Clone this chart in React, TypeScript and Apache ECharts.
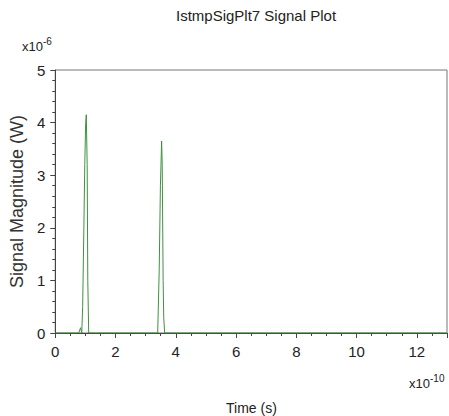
import React, { useEffect, useRef } from "react";
import * as echarts from "echarts";

// Time in units of 1e-10 s, magnitude in units of 1e-6 W
const timeValues = [0, 0.78, 0.84, 0.88, 0.91, 0.95, 0.98, 1.01, 1.03, 1.06, 1.08, 1.11, 3.4, 3.45, 3.49, 3.53, 3.55, 3.58, 3.6, 3.63, 13];
const signalValues = [0, 0, 0.1, 0, 0.5, 2.0, 3.2, 4.0, 4.15, 3.2, 1.0, 0, 0, 1.2, 2.8, 3.65, 3.2, 1.0, 0.3, 0, 0];
const xTickMax = 13;
const yTickMax = 5;
const title = "IstmpSigPlt7 Signal Plot";

const FONT = "Arial, 'Liberation Sans', sans-serif";

export default function App() {
  const ref = useRef<HTMLDivElement>(null);
  useEffect(() => {
    if (!ref.current) return;
    const chart = echarts.init(ref.current, undefined, { renderer: "svg" });
    const data = timeValues.map((t, i) => [t, signalValues[i]]);
    chart.setOption({
      animation: false,
      backgroundColor: "#ffffff",
      title: {
        text: title,
        left: 251,
        textAlign: "center",
        top: 3,
        textStyle: { fontFamily: FONT, fontSize: 15, fontWeight: "normal", color: "#222" },
      },
      graphic: [
        {
          type: "text",
          left: 22,
          top: 40,
          style: { text: "x10", fontFamily: FONT, fontSize: 13, fill: "#222" },
        },
        {
          type: "text",
          left: 43,
          top: 36,
          style: { text: "-6", fontFamily: FONT, fontSize: 10, fill: "#222" },
        },
        {
          type: "text",
          left: 409,
          top: 377,
          style: { text: "x10", fontFamily: FONT, fontSize: 13, fill: "#222" },
        },
        {
          type: "text",
          left: 430,
          top: 373,
          style: { text: "-10", fontFamily: FONT, fontSize: 10, fill: "#222" },
        },
        {
          type: "text",
          left: 226,
          top: 401,
          style: { text: "Time (s)", fontFamily: FONT, fontSize: 14, fill: "#222" },
        },
      ],
      grid: {
        left: 53,
        right: 2,
        top: 70,
        bottom: 83,
        show: true,
        borderColor: "#777",
        borderWidth: 1,
      },
      xAxis: {
        type: "value",
        min: 0,
        max: xTickMax,
        interval: 2,
        axisLine: { show: true, lineStyle: { color: "#444" } },
        axisTick: { show: true, length: 5, lineStyle: { color: "#444" } },
        minorTick: { show: true, splitNumber: 4, length: 3, lineStyle: { color: "#444" } },
        splitLine: { show: false },
        axisLabel: {
          showMaxLabel: false,
          margin: 11,
          fontFamily: FONT,
          fontSize: 15,
          color: "#222",
        },
      },
      yAxis: {
        type: "value",
        min: 0,
        max: yTickMax,
        interval: 1,
        name: "Signal Magnitude (W)",
        nameLocation: "middle",
        nameGap: 29,
        nameTextStyle: { fontFamily: FONT, fontSize: 18, color: "#333" },
        axisLine: { show: true, lineStyle: { color: "#444" } },
        axisTick: { show: true, length: 5, lineStyle: { color: "#444" } },
        minorTick: { show: true, splitNumber: 5, length: 3, lineStyle: { color: "#444" } },
        splitLine: { show: false },
        axisLabel: { margin: 10, fontFamily: FONT, fontSize: 15, color: "#222" },
      },
      series: [
        {
          type: "line",
          data,
          symbol: "none",
          lineStyle: { color: "#3f913f", width: 1 },
        },
      ],
    });
    return () => chart.dispose();
  }, []);
  return (
    <div
      ref={ref}
      style={{ position: "absolute", left: 0, top: 0, width: 449, height: 416 }}
    />
  );
}
